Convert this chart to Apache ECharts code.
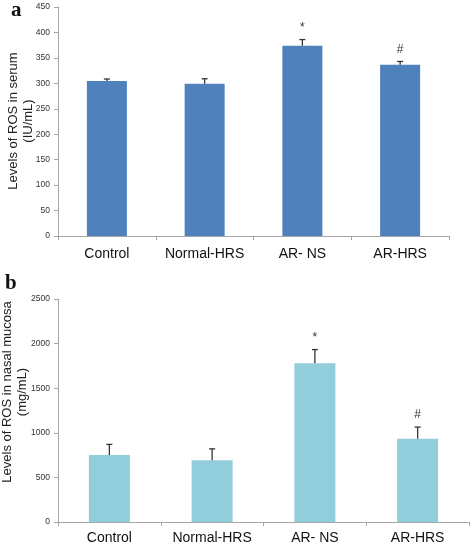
<!DOCTYPE html>
<html><head><meta charset="utf-8">
<script src="https://cdn.jsdelivr.net/npm/echarts@6/dist/echarts.min.js"></script>
<style>html,body{margin:0;padding:0;background:#fff}#c{width:472px;height:547px}</style>
</head><body><div id="c"></div>
<script>
const categories = ['Control', 'Normal-HRS', 'AR- NS', 'AR-HRS'];
const serumValues = [304.5, 299, 374, 336.5];
const serumErrors = [4, 10, 12, 6.5];
const serumMarks = ['', '', '*', '#'];
const mucosaValues = [750, 693, 1780, 933];
const mucosaErrors = [120, 127, 153, 131];
const mucosaMarks = ['', '', '*', '#'];

const chart = echarts.init(document.getElementById('c'), null, {renderer: 'canvas'});

function errSeries(xi, yi, vals, errs, marks) {
  return {
    type: 'custom', xAxisIndex: xi, yAxisIndex: yi, z: 5,
    data: vals.map((v, i) => [i, v, v + errs[i]]),
    renderItem: function (params, api) {
      const base = api.coord([api.value(0), api.value(1)]);
      const top = api.coord([api.value(0), api.value(2)]);
      const mark = marks[params.dataIndex];
      const children = [
        {type: 'line', shape: {x1: base[0], y1: base[1], x2: top[0], y2: top[1]}, style: {stroke: '#333', lineWidth: 1.3}},
        {type: 'line', shape: {x1: top[0] - 3, y1: top[1], x2: top[0] + 3, y2: top[1]}, style: {stroke: '#333', lineWidth: 1.3}}
      ];
      if (mark) {
        children.push({type: 'text', style: {text: mark, x: top[0], y: top[1] - 6, align: 'center', verticalAlign: 'bottom', fontSize: 12, fontFamily: 'Liberation Sans, Arial', fill: '#333'}});
      }
      return {type: 'group', children: children};
    }
  };
}

const axisLineStyle = {lineStyle: {color: '#a6a6a6', width: 1}};
const yLabel = {fontSize: 8.5, color: '#333', fontFamily: 'Liberation Sans, Arial', margin: 8, formatter: v => String(v)};
const xLabel = {fontSize: 14, color: '#111', fontFamily: 'Liberation Sans, Arial', interval: 0};

chart.setOption({
  animation: false,
  grid: [
    {left: 58, right: 23, top: 7, bottom: 311},
    {left: 58, right: 3, top: 299, bottom: 25}
  ],
  xAxis: [
    {type: 'category', gridIndex: 0, data: categories, axisLine: axisLineStyle,
     axisTick: {show: true, length: 4, interval: 0, lineStyle: {color: '#a6a6a6'}}, axisLabel: Object.assign({margin: 11}, xLabel)},
    {type: 'category', gridIndex: 1, data: categories, axisLine: axisLineStyle,
     axisTick: {show: true, length: 4, interval: 0, lineStyle: {color: '#a6a6a6'}}, axisLabel: Object.assign({margin: 9}, xLabel)}
  ],
  yAxis: [
    {type: 'value', gridIndex: 0, min: 0, max: 450, interval: 50, splitLine: {show: false},
     axisLine: Object.assign({show: true}, axisLineStyle), axisTick: {show: true, length: 4, lineStyle: {color: '#a6a6a6'}}, axisLabel: yLabel},
    {type: 'value', gridIndex: 1, min: 0, max: 2500, interval: 500, splitLine: {show: false},
     axisLine: Object.assign({show: true}, axisLineStyle), axisTick: {show: true, length: 4, lineStyle: {color: '#a6a6a6'}}, axisLabel: yLabel}
  ],
  series: [
    {type: 'bar', xAxisIndex: 0, yAxisIndex: 0, data: serumValues, barWidth: 40,
     itemStyle: {color: '#4f81bd'}},
    errSeries(0, 0, serumValues, serumErrors, serumMarks),
    {type: 'bar', xAxisIndex: 1, yAxisIndex: 1, data: mucosaValues, barWidth: 41,
     itemStyle: {color: '#92cddc'}},
    errSeries(1, 1, mucosaValues, mucosaErrors, mucosaMarks)
  ],
  graphic: [
    {type: 'text', left: 11, top: 0, style: {text: 'a', fontSize: 21, fontWeight: 'bold', fontFamily: 'Liberation Serif, Times New Roman', fill: '#111'}},
    {type: 'text', left: 5, top: 273, style: {text: 'b', fontSize: 21, fontWeight: 'bold', fontFamily: 'Liberation Serif, Times New Roman', fill: '#111'}},
    {type: 'text', x: 21, y: 121, rotation: Math.PI / 2,
     style: {text: 'Levels of ROS in serum\n(IU/mL)', align: 'center', verticalAlign: 'middle', fontSize: 13, lineHeight: 15, fontFamily: 'Liberation Sans, Arial', fill: '#222'}},
    {type: 'text', x: 15, y: 392, rotation: Math.PI / 2,
     style: {text: 'Levels of ROS in nasal mucosa\n(mg/mL)', align: 'center', verticalAlign: 'middle', fontSize: 13, lineHeight: 15, fontFamily: 'Liberation Sans, Arial', fill: '#222'}}
  ]
});
</script></body></html>
